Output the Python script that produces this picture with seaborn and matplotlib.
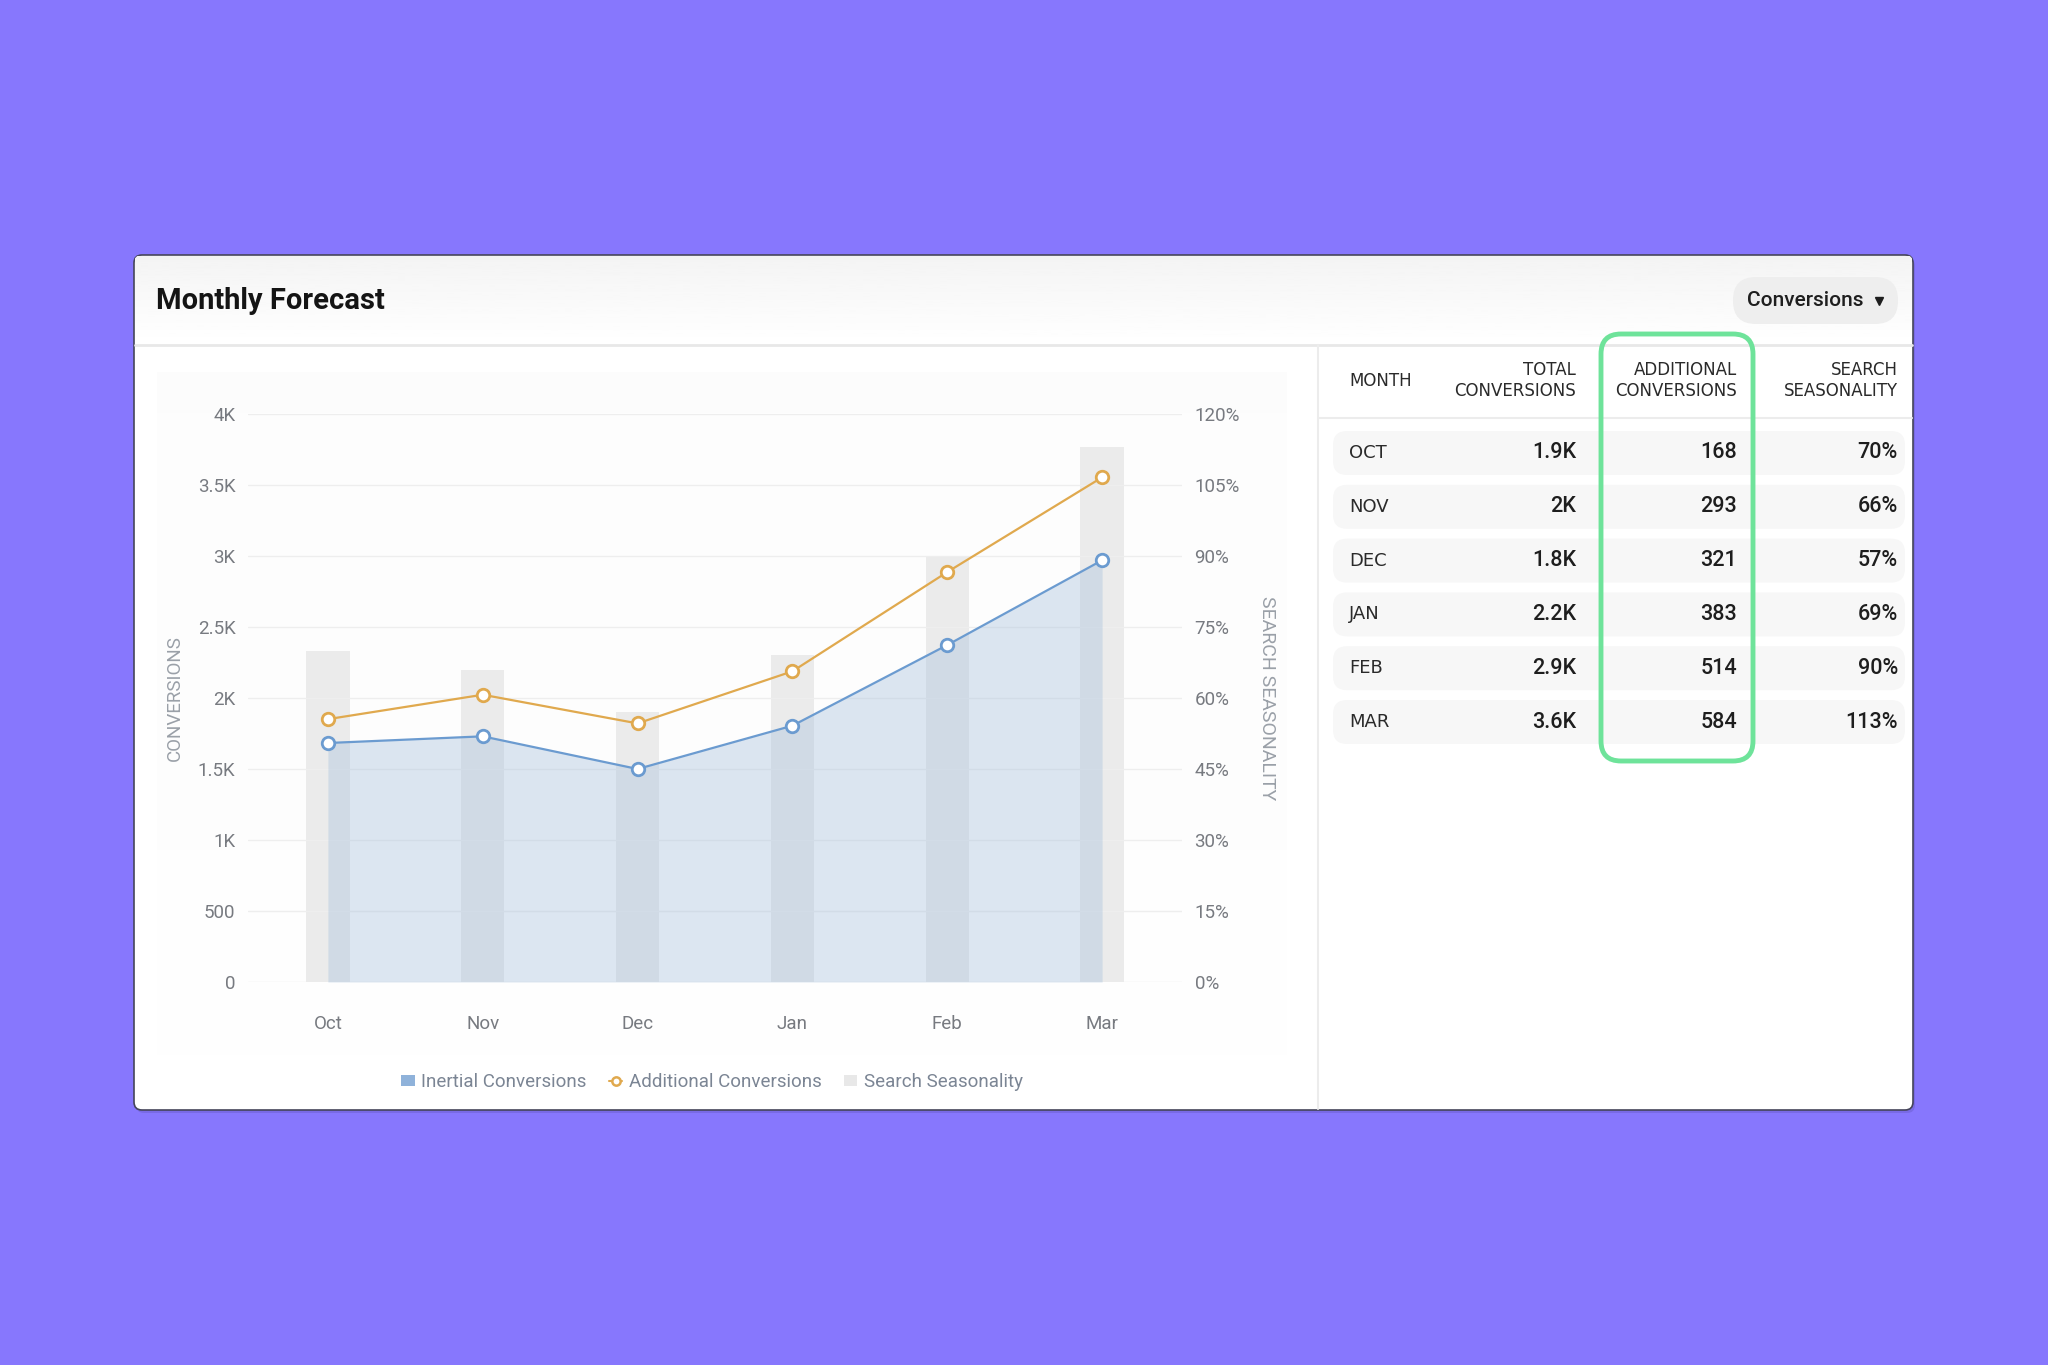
import matplotlib.pyplot as plt
import numpy as np
import pandas as pd
import seaborn as sns
from matplotlib.lines import Line2D
from matplotlib.patches import FancyBboxPatch, Patch

sns.set_theme(style="white")
plt.rcParams["font.family"] = ["Roboto", "DejaVu Sans"]

# data
months = ["Oct", "Nov", "Dec", "Jan", "Feb", "Mar"]
inertial = [1683, 1730, 1500, 1805, 2373, 2970]
additional = [168, 293, 321, 383, 514, 584]
seasonality = [70, 66, 57, 69, 90, 113]
total_k = [1.9, 2.0, 1.8, 2.2, 2.9, 3.6]

conv_ticks = [0, 500, 1000, 1500, 2000, 2500, 3000, 3500, 4000]
conv_labels = ["0", "500", "1K", "1.5K", "2K", "2.5K", "3K", "3.5K", "4K"]
season_ticks = [0, 15, 30, 45, 60, 75, 90, 105, 120]
season_labels = ["0%", "15%", "30%", "45%", "60%", "75%", "90%", "105%", "120%"]

table_headers = [("MONTH", ""), ("TOTAL", "CONVERSIONS"),
                 ("ADDITIONAL", "CONVERSIONS"), ("SEARCH", "SEASONALITY")]

df = pd.DataFrame({
    "idx": range(len(months)),
    "month": months,
    "inertial": inertial,
    "additional": additional,
    "season": seasonality,
})
df["total"] = df["inertial"] + df["additional"]

BLUE = "#6b9bd0"
ORANGE = "#e0a94e"
BAR = "#ebebeb"
TICK = "#777a80"

W, H = 2048, 1365
fig = plt.figure(figsize=(W / 100, H / 100), dpi=100)
fig.patch.set_facecolor("#8777fd")

# pixel-space layer for the card and table
bg = fig.add_axes([0, 0, 1, 1])
bg.set_axis_off()

shadow = FancyBboxPatch((136, 258), 1779, 855, boxstyle="round,pad=0,rounding_size=8",
                        fc="#5a4fb0", ec="none", alpha=0.3)
bg.add_patch(shadow)
card = FancyBboxPatch((134, 255), 1779, 855, boxstyle="round,pad=0,rounding_size=8",
                      fc="white", ec="#45455a", lw=1.2)
bg.add_patch(card)

grad = np.linspace(0.955, 1.0, 50).reshape(-1, 1)
im = bg.imshow(grad, extent=[135, 1912, 345, 256], cmap="gray", vmin=0, vmax=1,
               aspect="auto", zorder=1.5)
im.set_clip_path(card)
panel = np.linspace(0.988, 0.994, 50).reshape(-1, 1)
bg.imshow(panel, extent=[157, 1287, 1055, 372], cmap="gray", vmin=0, vmax=1,
          aspect="auto", zorder=1.5)

bg.plot([135, 1912], [345, 345], color="#e8e8e8", lw=2, zorder=2)
bg.plot([1318, 1318], [345, 1109], color="#ececec", lw=1.5, zorder=2)

bg.text(156, 301, "Monthly Forecast", fontsize=21, fontweight="bold", color="#141414",
        va="center", ha="left", zorder=3)

btn = FancyBboxPatch((1733, 277), 165, 47, boxstyle="round,pad=0,rounding_size=23",
                     fc="#eeeeee", ec="none", zorder=2)
bg.add_patch(btn)
bg.text(1747, 300, "Conversions", fontsize=15, color="#1e1e1e", va="center",
        ha="left", fontweight="medium", zorder=3)
bg.plot([1879], [301], marker="v", markersize=5.5, color="#1e1e1e", zorder=3)

# table
col_x = [1349, 1576, 1737, 1898]
col_ha = ["left", "right", "right", "right"]
for (top, bottom), x, ha in zip(table_headers, col_x, col_ha):
    if bottom:
        bg.text(x, 370, top, fontsize=12, color="#2a2a2a", ha=ha, va="center",
                family="DejaVu Sans", zorder=3)
        bg.text(x, 391, bottom, fontsize=12, color="#2a2a2a", ha=ha, va="center",
                family="DejaVu Sans", zorder=3)
    else:
        bg.text(x, 381, top, fontsize=12, color="#2a2a2a", ha=ha, va="center",
                family="DejaVu Sans", zorder=3)
bg.plot([1319, 1912], [418, 418], color="#ececec", lw=1.5, zorder=2)

row_y0, row_step = 453, 53.8
for i, (m, tk, add, s) in enumerate(zip(months, total_k, additional, seasonality)):
    y = row_y0 + i * row_step
    bg.add_patch(FancyBboxPatch((1333, y - 22), 572, 44,
                                boxstyle="round,pad=0,rounding_size=14",
                                fc="#f7f7f7", ec="none", zorder=2))
    bg.text(col_x[0], y, m.upper(), fontsize=13, color="#2a2a2a", ha="left",
            va="center", family="DejaVu Sans", zorder=3)
    vals = [f"{tk:g}K", f"{add}", f"{s}%"]
    for v, x in zip(vals, col_x[1:]):
        bg.text(x, y, v, fontsize=15.5, color="#1e1e1e", ha="right", va="center",
                fontweight="medium", zorder=3)

hl = FancyBboxPatch((1601, 334), 152, 427, boxstyle="round,pad=0,rounding_size=20",
                    fc="none", ec="#6ee39a", lw=3.5, zorder=4)
bg.add_patch(hl)

bg.set_xlim(0, W)
bg.set_ylim(H, 0)

# chart
ax = fig.add_axes([248 / W, 1 - 982 / H, (1182 - 248) / W, (982 - 414) / H])
ax2 = ax.twinx()

sns.barplot(data=df, x="idx", y="season", ax=ax2, color=BAR, width=0.28,
            saturation=1, linewidth=0, native_scale=True)
ax.fill_between(df["idx"], 0, df["inertial"], color="#a9c2de", alpha=0.4, lw=0)
sns.lineplot(data=df, x="idx", y="inertial", ax=ax, color=BLUE, lw=1.6,
             marker="o", markersize=9, markerfacecolor="white",
             markeredgecolor=BLUE, markeredgewidth=2, legend=False)
sns.lineplot(data=df, x="idx", y="total", ax=ax, color=ORANGE, lw=1.6,
             marker="o", markersize=9, markerfacecolor="white",
             markeredgecolor=ORANGE, markeredgewidth=2, legend=False)

ax.set_zorder(ax2.get_zorder() + 1)
ax.patch.set_visible(False)
ax2.patch.set_visible(False)

ax.set_xlim(-0.516, 5.516)
ax.set_ylim(0, 4000)
ax2.set_ylim(0, 120)
ax.set_yticks(conv_ticks, conv_labels)
ax2.set_yticks(season_ticks, season_labels)
ax.set_xticks(df["idx"], months)

ax.grid(axis="y", color="#eeeeee", lw=1)
ax.grid(axis="x", visible=False)
ax2.grid(False)
for a in (ax, ax2):
    for sp in a.spines.values():
        sp.set_visible(False)
ax.tick_params(axis="y", length=0, pad=9, labelsize=13.5, labelcolor=TICK)
ax.tick_params(axis="x", length=0, pad=24, labelsize=13.5, labelcolor=TICK)
ax2.tick_params(axis="y", length=0, pad=9, labelsize=13.5, labelcolor=TICK)

ax.set_xlabel("")
ax.set_ylabel("CONVERSIONS", fontsize=13.5, color="#9aa0a8")
ax.yaxis.set_label_coords(-0.069, 0.5)
ax2.set_ylabel("SEARCH SEASONALITY", fontsize=14, color="#9aa0a8", rotation=270,
               va="center")
ax2.yaxis.set_label_coords(1.091, 0.5)
ax2.set_xlabel("")

handles = [
    Patch(fc="#8fb2da", ec="none", label="Inertial Conversions"),
    Line2D([0], [0], color=ORANGE, lw=1.5, marker="o", markersize=6,
           markerfacecolor="white", markeredgecolor=ORANGE, markeredgewidth=1.8,
           label="Additional Conversions"),
    Patch(fc="#e8e8e8", ec="none", label="Search Seasonality"),
]
leg = fig.legend(handles=handles, loc="center", bbox_to_anchor=(712 / W, 1 - 1082 / H),
                 ncol=3, frameon=False, fontsize=13.5, handlelength=0.7,
                 handleheight=0.5, handletextpad=0.35, columnspacing=1.2)
for t in leg.get_texts():
    t.set_color("#7b8594")

fig.savefig("out.png", dpi=100, facecolor=fig.get_facecolor())
